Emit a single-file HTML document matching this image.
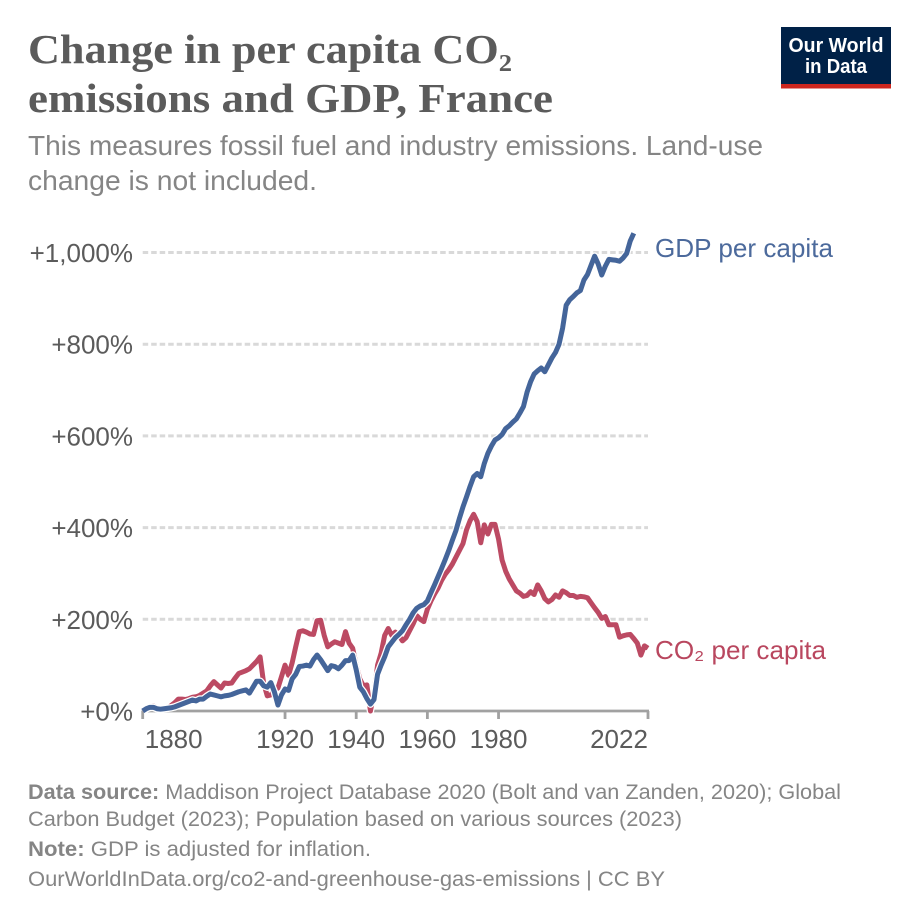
<!DOCTYPE html>
<html lang="en">
<head>
<meta charset="utf-8">
<title>Change in per capita CO₂ emissions and GDP, France</title>
<style>
html,body{margin:0;padding:0;background:#fff;}
svg{display:block;}
text{font-family:"Liberation Sans","DejaVu Sans",sans-serif;}
.title{font-family:"Liberation Serif","DejaVu Serif",serif;font-weight:700;font-size:41px;fill:#5b5b5b;}
.subtitle{font-size:28px;fill:#858585;}
.tick{font-size:26px;fill:#5b5b5b;}
.foot{font-size:21.5px;fill:#858585;}
</style>
</head>
<body>
<svg id="chart" xmlns="http://www.w3.org/2000/svg" width="919" height="919" viewBox="0 0 919 919">
  <rect x="0" y="0" width="919" height="919" fill="#fff"/>
  <text class="title" x="28" y="63" textLength="484" lengthAdjust="spacingAndGlyphs">Change in per capita CO₂</text>
  <text class="title" x="28" y="112" textLength="525" lengthAdjust="spacingAndGlyphs">emissions and GDP, France</text>
  <text class="subtitle" x="28" y="155" textLength="735" lengthAdjust="spacingAndGlyphs">This measures fossil fuel and industry emissions. Land-use</text>
  <text class="subtitle" x="28" y="190" textLength="289" lengthAdjust="spacingAndGlyphs">change is not included.</text>

  <g>
    <rect x="781" y="27" width="110" height="57" fill="#002147"/>
    <rect x="781" y="84" width="110" height="4.5" fill="#ce261e"/>
    <text x="836" y="52" text-anchor="middle" font-size="20" font-weight="700" fill="#fff" textLength="95" lengthAdjust="spacingAndGlyphs">Our World</text>
    <text x="836" y="73" text-anchor="middle" font-size="20" font-weight="700" fill="#fff" textLength="62" lengthAdjust="spacingAndGlyphs">in Data</text>
  </g>

  <g id="grid"></g>
  <g id="yaxis"></g>
  <g id="xaxis"></g>
  <g id="series"></g>

  <text x="655" y="257" font-size="26" fill="#4c6a9c" textLength="178" lengthAdjust="spacingAndGlyphs">GDP per capita</text>
  <text x="655" y="659" font-size="26" fill="#b9475f" textLength="171" lengthAdjust="spacingAndGlyphs">CO₂ per capita</text>

  <text class="foot" x="28" y="799" textLength="813" lengthAdjust="spacingAndGlyphs"><tspan font-weight="700">Data source:</tspan> Maddison Project Database 2020 (Bolt and van Zanden, 2020); Global</text>
  <text class="foot" x="28" y="826" textLength="654" lengthAdjust="spacingAndGlyphs">Carbon Budget (2023); Population based on various sources (2023)</text>
  <text class="foot" x="28" y="856" textLength="343" lengthAdjust="spacingAndGlyphs"><tspan font-weight="700">Note:</tspan> GDP is adjusted for inflation.</text>
  <text class="foot" x="28" y="886" textLength="637" lengthAdjust="spacingAndGlyphs">OurWorldInData.org/co2-and-greenhouse-gas-emissions | CC BY</text>
</svg>
<script>
const startYear = 1880;
const endYear = 2022;
const yTicks = [0, 200, 400, 600, 800, 1000];
const yTickLabels = ["+0%", "+200%", "+400%", "+600%", "+800%", "+1,000%"];
const xTicks = [1880, 1920, 1940, 1960, 1980, 2022];
const gdpValues = [
  0,5,8,8,5,4,5,6,7,9,
  12,15,18,21,24,22,26,26,32,37,
  35,33,31,33,34,36,39,42,44,46,
  39,52,65,65,55,52,62,42,13,35,
  48,45,70,80,97,98,100,98,112,122,
  112,100,88,99,97,92,100,110,110,122,
  90,52,42,27,15,25,80,100,118,140,
  150,160,167,175,188,200,214,224,229,232,
  240,258,275,293,311,330,350,372,393,420,
  445,467,490,511,518,511,540,562,578,591,
  596,603,616,622,630,637,650,664,695,718,
  735,742,748,740,755,770,782,800,835,885,
  897,904,912,917,940,952,972,992,975,951,
  970,985,984,983,981,988,998,1025,1042
];
const co2Values = [
  0,5,8,11,7,5,6,6,12,18,
  26,26,25,27,30,31,34,39,44,55,
  64,57,50,61,60,61,72,82,85,88,
  92,100,108,118,60,33,35,45,50,75,
  100,78,105,140,173,175,172,168,167,197,
  198,165,140,146,151,148,145,173,148,137,
  100,70,55,57,0,40,100,126,165,180,
  165,172,165,153,160,175,190,208,200,195,
  222,240,255,268,285,298,308,320,335,350,
  365,395,415,429,413,367,406,386,407,407,
  375,329,305,288,275,262,257,250,252,260,
  254,275,262,245,238,243,253,248,262,258,
  252,252,248,250,249,247,236,225,215,202,
  206,188,188,188,161,164,166,167,158,148,
  122,142,137
];

const NS = "http://www.w3.org/2000/svg";
const plotLeft = 142.7, plotRight = 648, plotBottom = 711, plotTop1000 = 252.5;
function xScale(year) {
  return plotLeft + (year - startYear) * (plotRight - plotLeft) / (endYear - startYear);
}
function yScale(value) {
  return plotBottom - value * (plotBottom - plotTop1000) / 1000;
}
function make(tag, parent, attrs) {
  const el = document.createElementNS(NS, tag);
  for (const k in attrs) el.setAttribute(k, attrs[k]);
  parent.appendChild(el);
  return el;
}

const grid = document.getElementById("grid");
const yaxis = document.getElementById("yaxis");
yTicks.forEach(function (v, i) {
  if (v !== 0) {
    const line = make("line", grid, {x1: plotLeft, x2: plotRight, y1: yScale(v), y2: yScale(v), stroke: "#d9d9d9", "stroke-width": 3, "stroke-dasharray": "5.5,3"});
    
    
  }
  const label = make("text", yaxis, {x: 133, y: yScale(v) + 9.5, "text-anchor": "end", "class": "tick"});
  label.textContent = yTickLabels[i];
  
  
});

const xaxis = document.getElementById("xaxis");
const axisLine = make("line", xaxis, {x1: plotLeft - 1, x2: plotRight + 1, y1: plotBottom, y2: plotBottom, stroke: "#a1a1a1", "stroke-width": 2.8});


xTicks.forEach(function (yr) {
  const px = xScale(yr);
  const tick = make("line", xaxis, {x1: px, x2: px, y1: plotBottom, y2: plotBottom + 8, stroke: "#a1a1a1", "stroke-width": 2.8});
  
  
  const halfWidth = 29;
  const cx = Math.min(plotRight - halfWidth, Math.max(plotLeft + halfWidth + 2, px));
  const label = make("text", xaxis, {x: cx, y: 748, "text-anchor": "middle", "class": "tick"});
  label.textContent = String(yr);
  
  
});

function linePoints(values) {
  return values.map(function (v, i) {
    return xScale(startYear + i).toFixed(2) + "," + yScale(v).toFixed(2);
  }).join(" ");
}
const seriesGroup = document.getElementById("series");

const co2Halo = make("polyline", seriesGroup, {points: linePoints(co2Values), fill: "none", stroke: "#fff", "stroke-width": 7.5, "stroke-linejoin": "round"});


const co2Line = make("polyline", seriesGroup, {points: linePoints(co2Values), fill: "none", stroke: "#bc4a63", "stroke-width": 5, "stroke-linejoin": "round"});



const gdpHalo = make("polyline", seriesGroup, {points: linePoints(gdpValues), fill: "none", stroke: "#fff", "stroke-width": 7.5, "stroke-linejoin": "round"});


const gdpLine = make("polyline", seriesGroup, {points: linePoints(gdpValues), fill: "none", stroke: "#44659a", "stroke-width": 5, "stroke-linejoin": "round"});


</script>
</body>
</html>
